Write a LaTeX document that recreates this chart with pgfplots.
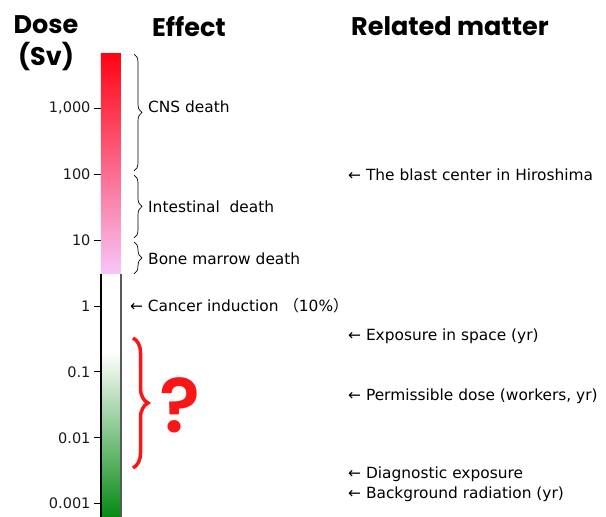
\documentclass[border=0pt]{standalone}
\usepackage{fontspec}
\setmainfont{DejaVu Sans}
\newfontfamily\headfont{Poppins}
\newfontfamily\qfont{Poppins}[UprightFont={* SemiBold}]
\newfontfamily\cjk{Noto Sans CJK JP}
\usepackage{pgfplots}
\pgfplotsset{compat=1.18}
\usetikzlibrary{decorations.pathreplacing}
\definecolor{topred}{RGB}{255,4,18}
\definecolor{lowpink}{RGB}{246,198,250}
\definecolor{dkgreen}{RGB}{6,138,20}
\definecolor{qred}{RGB}{250,22,22}
\definecolor{txt}{RGB}{25,25,25}
\begin{document}
\begin{tikzpicture}
\path[use as bounding box] (0,0) rectangle (606pt,517pt);
\begin{axis}[
  at={(101pt,0pt)}, anchor=south west,
  scale only axis, width=20pt, height=463pt,
  xmin=101, xmax=121,
  ymode=log, ymin=0.000628, ymax=6668,
  enlargelimits=false, clip=false,
  axis line style={draw=none},
  xtick=\empty,
  ytick={0.001,0.01,0.1,1,10,100,1000},
  yticklabels={\mbox{0.001},\mbox{0.01},\mbox{0.1},\mbox{1},\mbox{10},\mbox{100},\mbox{1,000}},
  yminorticks=false,
  ytick pos=left, tick align=outside,
  major tick length=7pt,
  tick style={black, line width=0.8pt},
  yticklabel style={font=\fontsize{14.5}{15}\selectfont, text=txt},
  every node/.style={text=txt},
]
% colour bar segments
\addplot[draw=none, top color=topred, bottom color=lowpink]
  coordinates {(101,3.06) (121,3.06) (121,6668) (101,6668)};
\addplot[draw=none, top color=white, bottom color=dkgreen]
  coordinates {(101,0.000628) (121,0.000628) (121,0.2) (101,0.2)};
% bar borders
\addplot[black, line width=1.2pt] coordinates {(101,0.000628) (101,3.06)};
\addplot[black!65, line width=1.4pt] coordinates {(121,0.000628) (121,3.06)};
% braces
\draw[decorate, decoration={brace, amplitude=8pt}, line width=0.7pt, black]
  (axis cs:134,6668) -- (axis cs:134,112);
\draw[decorate, decoration={brace, amplitude=8pt}, line width=0.7pt, black]
  (axis cs:134,97) -- (axis cs:134,10.8);
\draw[decorate, decoration={brace, amplitude=8pt}, line width=0.7pt, black]
  (axis cs:134,9.4) -- (axis cs:134,3.06);
\draw[decorate, decoration={brace, amplitude=15pt}, line width=3.5pt, qred]
  (axis cs:133,0.327) -- (axis cs:133,0.00348);
% effect labels
\tikzset{lab/.style={anchor=west, inner sep=0pt, text height=11.2pt, text depth=0pt,
  font=\fontsize{15.4}{16}\selectfont}}
\node[lab] at (axis cs:148,1047) {CNS death};
\node[lab] at (axis cs:148,31.8) {Intestinal~ death};
\node[lab] at (axis cs:148,5.17) {Bone marrow death};
\node[lab] at (axis cs:130,1) {←~Cancer induction~{\cjk （}10\%{\cjk ）}};
\node[inner sep=0pt, text=qred, font=\qfont\fontsize{76}{76}\selectfont]
  at (axis cs:180,0.0315) {?};
% related matter
\node[lab] at (axis cs:348,97.2) {←~The blast center in Hiroshima};
\node[lab] at (axis cs:348,0.363) {←~Exposure in space (yr)};
\node[lab] at (axis cs:348,0.0445) {←~Permissible dose (workers, yr)};
\node[lab] at (axis cs:348,0.00292) {←~Diagnostic exposure};
\node[lab] at (axis cs:348,0.00145) {←~Background radiation (yr)};
% headers
\tikzset{hd/.style={inner sep=0pt, text=black, font=\headfont\bfseries\fontsize{25.5}{25.5}\selectfont}}
\node[hd] at (axis cs:46,18370) {Dose};
\node[hd] at (axis cs:46,6000) {(Sv)};
\node[hd] at (axis cs:189,17130) {Effect};
\node[hd] at (axis cs:450,17740) {Related matter};
\end{axis}
\end{tikzpicture}
\end{document}
